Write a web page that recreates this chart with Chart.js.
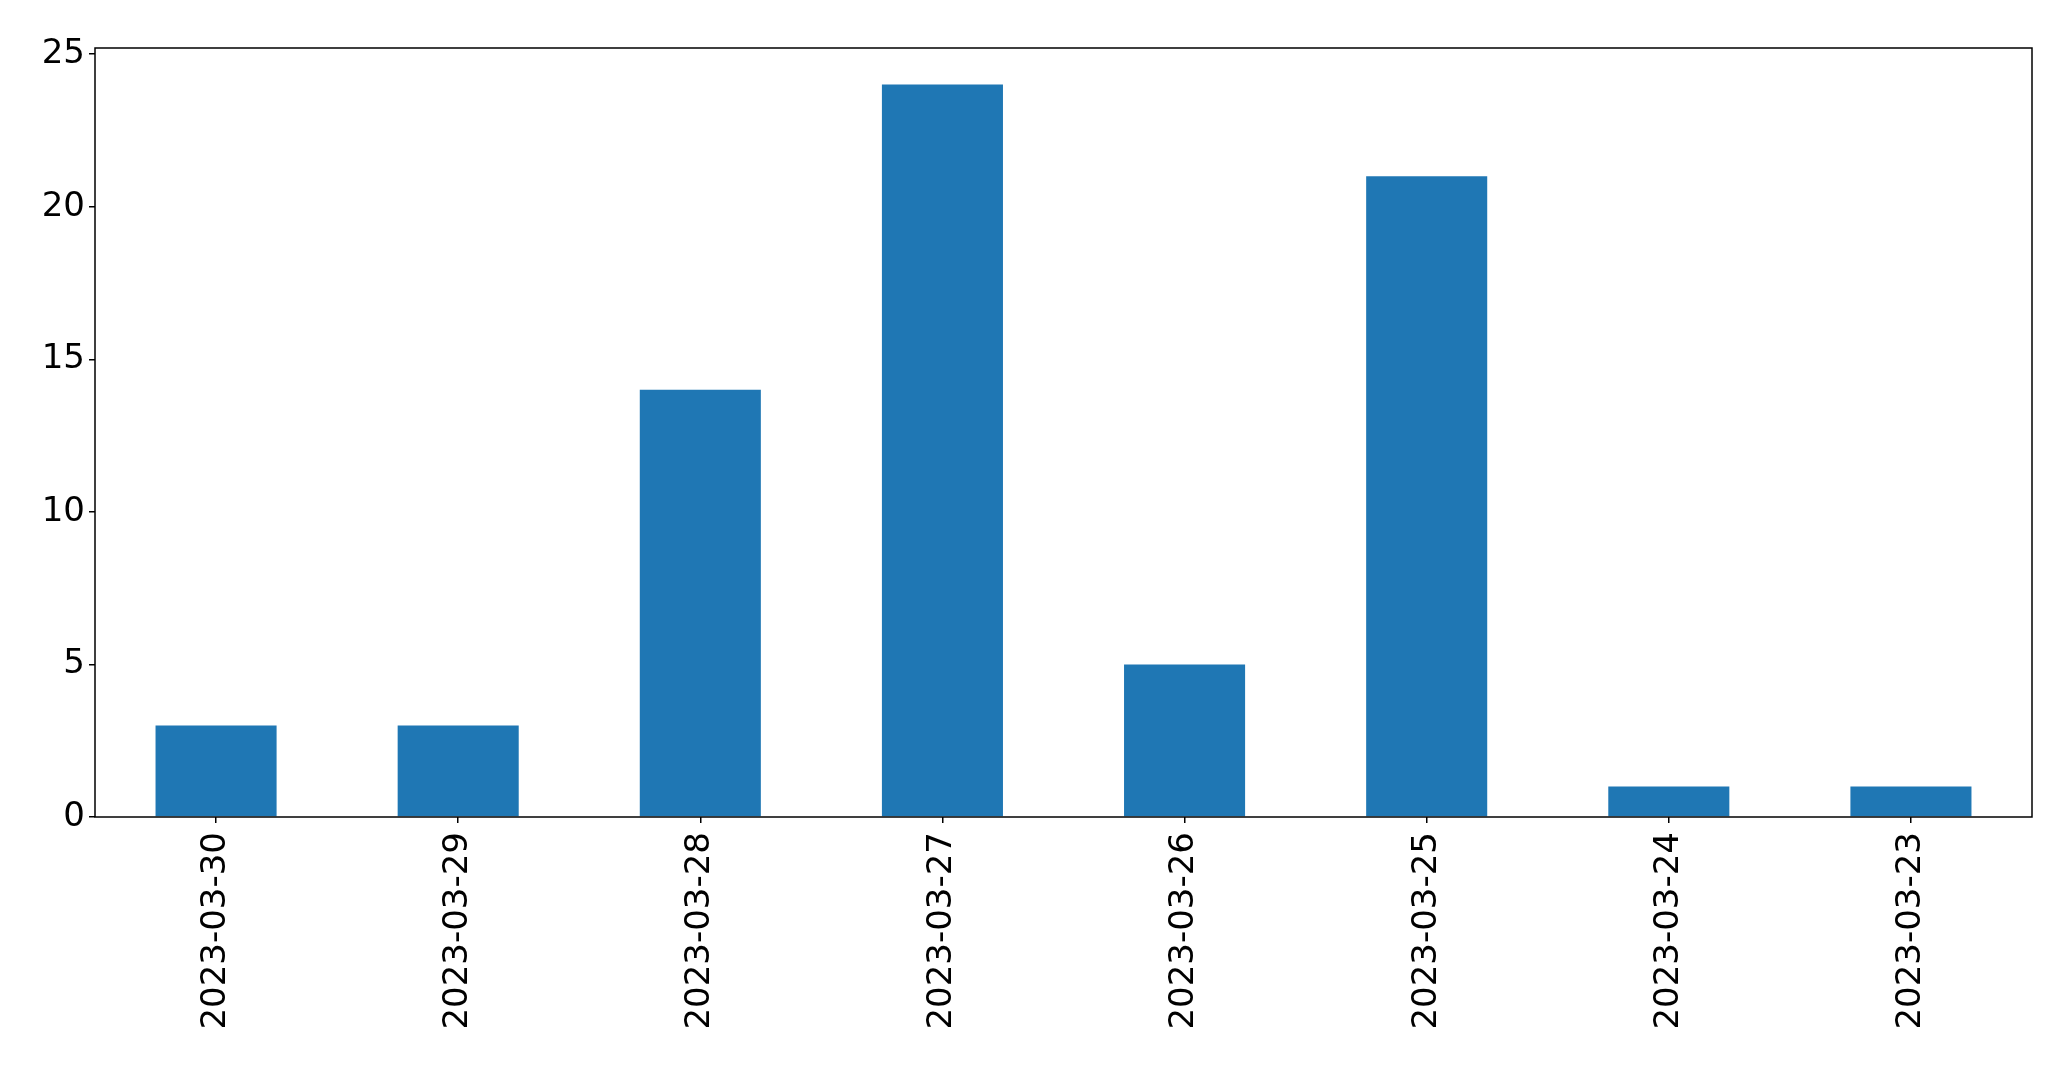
<!DOCTYPE html>
<html>
<head>
<meta charset="utf-8">
<title>Counts per day</title>
<script src="https://cdn.jsdelivr.net/npm/chart.js@4/dist/chart.umd.min.js"></script>
<style>
  html, body { margin: 0; padding: 0; background: #fff; }
  #wrap { width: 2071px; height: 1069px; }
</style>
</head>
<body>
<div id="wrap"><canvas id="dayChart" width="2071" height="1069"></canvas></div>
<script>
var days   = ['2023-03-30', '2023-03-29', '2023-03-28', '2023-03-27', '2023-03-26', '2023-03-25', '2023-03-24', '2023-03-23'];
var counts = [3, 3, 14, 24, 5, 21, 1, 1];
var yTicks = [0, 5, 10, 15, 20, 25];
var yMax   = 25.2;

// black frame round the plot, like the matplotlib spines
var frame = {
    id: 'frame',
    afterDraw: function(chart) {
        var a = chart.chartArea, ctx = chart.ctx;
        ctx.save();
        ctx.strokeStyle = '#000';
        ctx.lineWidth = 1.5;
        ctx.strokeRect(a.left, a.top, a.right - a.left, a.bottom - a.top);
        ctx.restore();
    }
};

var tickFont = { family: 'DejaVu Sans', size: 34 };

var dayChart = new Chart(document.getElementById('dayChart'), {
    type: 'bar',
    data: {
        labels: days,
        datasets: [{
            data: counts,
            backgroundColor: '#1f77b4',
            borderWidth: 0,
            categoryPercentage: 1.0,
            barPercentage: 0.5
        }]
    },
    options: {
        responsive: false,
        animation: false,
        devicePixelRatio: 1,
        layout: { padding: { top: 48, right: 39, left: 0, bottom: 0 } },
        plugins: {
            legend: { display: false },
            tooltip: { enabled: false }
        },
        scales: {
            x: {
                grid: { display: true, drawOnChartArea: false, drawTicks: true, tickLength: 6, color: '#000', lineWidth: 1.5, offset: false },
                border: { display: false },
                ticks: { color: '#000', font: tickFont, minRotation: 90, maxRotation: 90, padding: 9, autoSkip: false },
                afterFit: function(scale) { scale.height = 252; }
            },
            y: {
                min: 0,
                max: yMax,
                grid: { display: true, drawOnChartArea: false, drawTicks: true, tickLength: 6, color: '#000', lineWidth: 1.5 },
                border: { display: false },
                ticks: { color: '#000', font: tickFont, padding: 4 },
                afterBuildTicks: function(scale) {
                    scale.ticks = yTicks.map(function(v) { return { value: v }; });
                },
                afterFit: function(scale) { scale.width = 95; }
            }
        }
    },
    plugins: [frame]
});
</script>
</body>
</html>
